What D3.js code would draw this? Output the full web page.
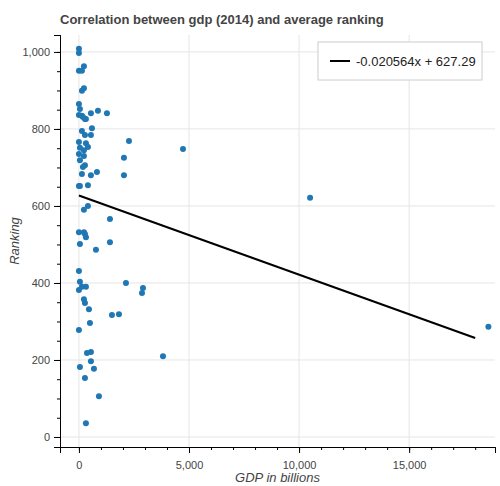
<!DOCTYPE html>
<html><head><meta charset="utf-8">
<script src="https://cdn.jsdelivr.net/npm/d3@7"></script>
<style>body{margin:0;background:#fff;font-family:Helvetica,"Liberation Sans",Arial,sans-serif}</style>
</head><body><svg id="c" width="500" height="486"></svg>
<script>
const gdp = [0,0,227,0,136,136,227,0,45,545,864,1273,0,136,182,273,318,591,136,273,545,2273,0,318,409,45,227,4727,0,227,2045,45,273,182,818,136,545,2045,0,45,409,409,227,1409,0,227,273,318,45,1409,773,0,45,136,318,0,2136,2909,2864,227,273,455,1500,1818,500,0,364,545,545,3818,45,682,273,909,318,10500,18600];
const rank = [1008,997,963,951,951,899,906,865,852,841,847,841,836,834,831,826,826,802,795,784,784,769,766,763,753,751,745,748,735,730,725,719,706,701,688,683,680,680,652,652,654,600,590,566,532,532,527,519,501,506,486,431,403,390,390,382,400,387,374,358,348,332,317,319,296,278,218,221,197,210,182,177,153,106,36,621,286];
const slope = -0.020564, intercept = 627.29;
const xTicks = [0,5000,10000,15000], yTicks = [0,200,400,600,800,1000];

const svg = d3.select("#c");
const L = 60, R = 495, T = 35, B = 447;
const x = d3.scaleLinear().domain([-860, 18900]).range([L, R]);
const y = d3.scaleLinear().domain([-26, 1044]).range([B, T]);

// grid
svg.append("g").selectAll("line").data(xTicks).join("line")
  .attr("x1", d => x(d)).attr("x2", d => x(d)).attr("y1", T).attr("y2", B)
  .attr("stroke", "#e5e5e5");
svg.append("g").selectAll("line").data(yTicks).join("line")
  .attr("y1", d => y(d)).attr("y2", d => y(d)).attr("x1", L).attr("x2", R)
  .attr("stroke", "#e5e5e5");

const xa = svg.append("g").attr("transform", `translate(0,${B})`)
  .call(d3.axisBottom(x).tickValues(xTicks).tickSizeOuter(0).tickSize(6).tickPadding(8));
svg.append("g").attr("transform", `translate(0,${B})`)
  .call(d3.axisBottom(x).ticks(20).tickFormat("").tickSizeOuter(0).tickSize(3));
const ya = svg.append("g").attr("transform", `translate(${L},0)`)
  .call(d3.axisLeft(y).tickValues(yTicks).tickSizeOuter(0).tickSize(6).tickPadding(4));
svg.append("g").attr("transform", `translate(${L},0)`)
  .call(d3.axisLeft(y).ticks(25).tickFormat("").tickSizeOuter(0).tickSize(3));
svg.selectAll(".tick text").attr("font-size", 11).attr("fill", "#444").attr("font-family", "Helvetica,Liberation Sans,Arial");
svg.selectAll(".tick line").attr("stroke", "#000");
svg.selectAll(".domain").attr("stroke", "#000");

// points
svg.append("g").selectAll("circle").data(gdp).join("circle")
  .attr("cx", d => x(d)).attr("cy", (d, i) => y(rank[i])).attr("r", 3)
  .attr("fill", "#1f77b4");

// regression line
svg.append("line")
  .attr("x1", x(0)).attr("y1", y(intercept))
  .attr("x2", x(18000)).attr("y2", y(intercept + slope * 18000))
  .attr("stroke", "#000").attr("stroke-width", 2);

// legend
svg.append("rect").attr("x", 318).attr("y", 42).attr("width", 164).attr("height", 38)
  .attr("fill", "#fff").attr("stroke", "#ccc");
svg.append("line").attr("x1", 330).attr("x2", 350).attr("y1", 61).attr("y2", 61)
  .attr("stroke", "#000").attr("stroke-width", 2);
svg.append("text").attr("x", 356).attr("y", 66).attr("font-size", 13).attr("fill", "#222")
  .text(`${slope}x + ${intercept}`);

svg.append("text").attr("x", 60).attr("y", 24).attr("font-size", 13).attr("font-weight", "bold")
  .attr("fill", "#444").text("Correlation between gdp (2014) and average ranking");
svg.append("text").attr("x", (L + R) / 2).attr("y", 482).attr("text-anchor", "middle")
  .attr("font-size", 13).attr("font-style", "italic").attr("fill", "#444").text("GDP in billions");
svg.append("text").attr("transform", `translate(19,${(T + B) / 2}) rotate(-90)`).attr("text-anchor", "middle")
  .attr("font-size", 13).attr("font-style", "italic").attr("fill", "#444").text("Ranking");
</script></body></html>
